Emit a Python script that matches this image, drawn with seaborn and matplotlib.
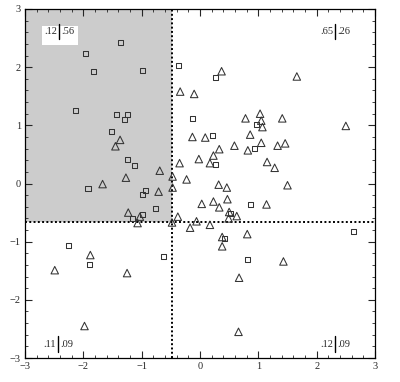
import matplotlib
matplotlib.use("Agg")
import matplotlib.pyplot as plt
import seaborn as sns
import pandas as pd
from matplotlib.ticker import MultipleLocator

# ---- data ----
sq_x = [-1.37, -1.97, -1.82, -0.99, -2.14, -1.43, -1.24, -1.30, -1.52, -1.24, -1.13,
        -1.92, -0.94, -0.98, -0.37, -0.13, 0.27, 0.97, 0.21, 0.94, 0.27, -0.77,
        -1.15, -0.99, -2.26, -1.90, -0.63, 0.87, 0.53, 2.63, 0.42, 0.82]
sq_y = [2.43, 2.24, 1.92, 1.95, 1.26, 1.19, 1.19, 1.10, 0.90, 0.41, 0.31,
        -0.09, -0.12, -0.19, 2.03, 1.11, 1.82, 1.02, 0.83, 0.61, 0.33, -0.43,
        -0.60, -0.54, -1.07, -1.40, -1.26, -0.36, -0.51, -0.82, -0.94, -1.31]

tri_x = [-1.37, -1.45, -1.27, -1.67, -0.69, -0.47, -0.71, -0.47, -0.34, -0.10,
         -0.13, -0.35, -0.23, -0.02, 0.37, 1.66, 1.03, 0.78, 1.41, 1.05,
         1.07, 2.50, 0.86, 0.09, 0.59, 1.05, 0.33, 0.82, 1.33, 1.46,
         0.23, 0.17, 1.15, 1.28, 0.32, 0.46, 1.50, -1.23, -1.03, -1.07,
         -0.38, -0.48, -0.17, -0.06, -1.88, -2.49, -1.25, -1.98, 1.14, 0.03,
         0.23, 0.33, 0.47, 0.50, 0.63, 0.49, 0.17, 0.38, 0.81, 0.38,
         1.43, 0.67, 0.66]
tri_y = [0.75, 0.64, 0.10, -0.01, 0.22, 0.12, -0.14, -0.07, 1.58, 1.54,
         0.80, 0.35, 0.07, 0.42, 1.93, 1.84, 1.20, 1.12, 1.12, 1.08,
         0.97, 0.99, 0.84, 0.79, 0.65, 0.70, 0.59, 0.57, 0.65, 0.69,
         0.48, 0.35, 0.37, 0.27, -0.02, -0.07, -0.03, -0.50, -0.57, -0.68,
         -0.57, -0.67, -0.76, -0.65, -1.23, -1.49, -1.54, -2.45, -0.36, -0.35,
         -0.31, -0.41, -0.27, -0.49, -0.56, -0.60, -0.71, -0.92, -0.87, -1.08,
         -1.34, -1.62, -2.55]

cut_x = -0.485
cut_y = -0.667
ticks = [-3, -2, -1, 0, 1, 2, 3]
tick_labels = ["\u22123", "\u22122", "\u22121", "0", "1", "2", "3"]
quad_labels = [(".12", ".56"), (".65", ".26"), (".11", ".09"), (".12", ".09")]

sns.set_style("ticks")
plt.rcParams["font.family"] = ["Liberation Serif", "DejaVu Serif"]
plt.rcParams["axes.linewidth"] = 0.9

df = pd.DataFrame({
    "x": sq_x + tri_x,
    "y": sq_y + tri_y,
    "kind": ["sq"] * len(sq_x) + ["tri"] * len(tri_x),
})

fig = plt.figure(figsize=(4.0, 3.82), dpi=100)
ax = fig.add_axes([25 / 400, 24 / 382, 350 / 400, 349 / 382])

# shaded quadrant
ax.fill_between([-3, cut_x], cut_y, 3, color="#cccccc", lw=0, zorder=0)

sns.scatterplot(data=df[df.kind == "sq"], x="x", y="y", marker="s", s=13,
                facecolor="none", edgecolor="#333333", linewidth=0.75, ax=ax, zorder=3)
sns.scatterplot(data=df[df.kind == "tri"], x="x", y="y", marker="^", s=29,
                facecolor="none", edgecolor="#333333", linewidth=0.75, ax=ax, zorder=3)

ax.axvline(cut_x, color="black", ls=(0, (1, 1.2)), lw=1.4, zorder=2)
ax.axhline(cut_y, color="black", ls=(0, (1, 1.2)), lw=1.4, zorder=2)

ax.set_xlim(-3, 3)
ax.set_ylim(-3, 3)
ax.set_xticks(ticks)
ax.set_xticklabels(tick_labels)
ax.set_yticks(ticks)
ax.set_yticklabels(tick_labels)
ax.xaxis.set_minor_locator(MultipleLocator(0.2))
ax.yaxis.set_minor_locator(MultipleLocator(0.2))
ax.tick_params(which="major", direction="in", length=5, width=0.8,
               top=True, right=True, labelsize=7.5, pad=3)
ax.tick_params(which="minor", direction="in", length=2.5, width=0.6,
               top=True, right=True)
ax.set_xlabel("")
ax.set_ylabel("")
for sp in ax.spines.values():
    sp.set_visible(True)
    sp.set_color("black")

# quadrant labels: (bar x frac, y center frac)
pos = [(0.098, 0.936), (0.886, 0.936), (0.095, 0.040), (0.886, 0.040)]
for (l, r), (bx, by) in zip(quad_labels, pos):
    if bx < 0.5 and by > 0.5:
        ax.add_patch(plt.Rectangle((0.049, 0.897), 0.102, 0.054, transform=ax.transAxes,
                                   facecolor="white", edgecolor="none", zorder=4))
    ax.text(bx - 0.006, by, l, transform=ax.transAxes, ha="right", va="center",
            fontsize=7.5, zorder=5)
    ax.text(bx + 0.006, by, r, transform=ax.transAxes, ha="left", va="center",
            fontsize=7.5, zorder=5)
    ax.plot([bx, bx], [by - 0.022, by + 0.022], transform=ax.transAxes,
            color="black", lw=1.0, zorder=5)

fig.savefig("out.png", dpi=100)
